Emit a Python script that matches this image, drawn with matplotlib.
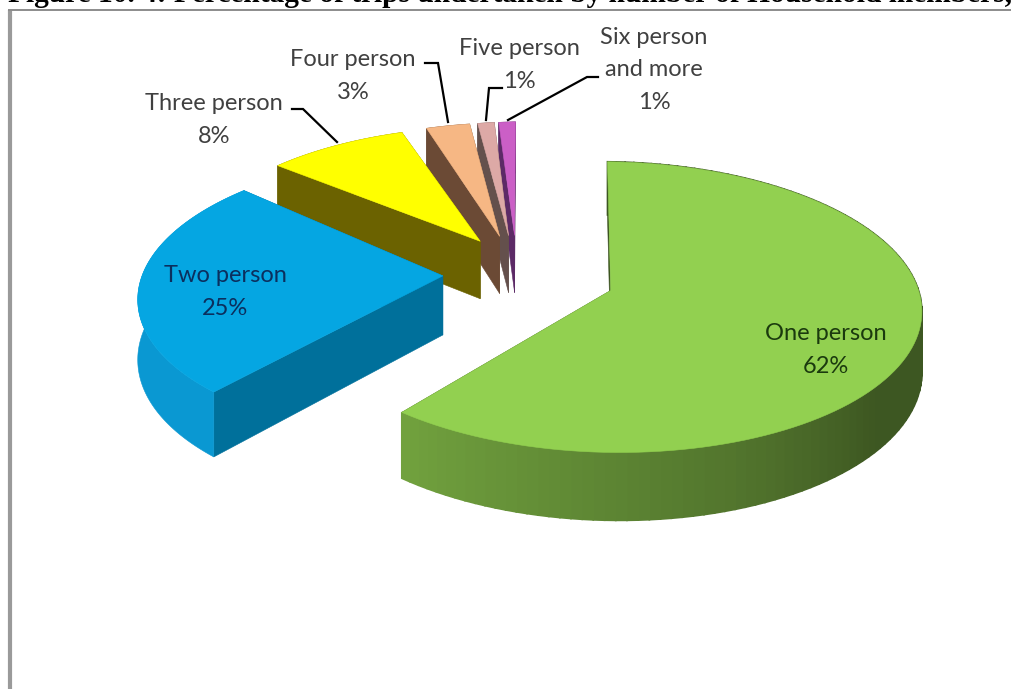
import numpy as np
import matplotlib
matplotlib.use("Agg")
import matplotlib.pyplot as plt
from matplotlib.patches import Polygon

# pie data, clockwise from the top
categories = ["One person", "Two person", "Three person", "Four person", "Five person", "Six person\nand more"]
shares = [62, 25, 8, 3, 1, 1]
top_colors = ["#92D050", "#05A6E2", "#FFFF00", "#F6B784", "#DDA9A6", "#CB5FC6"]
side_colors = ["#3C5420", "#00709B", "#6B6200", "#6B4A35", "#64504C", "#5C2A66"]
rim_colors = ["#92D050", "#0A98D2", "#6B6200", "#6B4A35", "#64504C", "#5C2A66"]
label_colors = ["#1B3A0E", "#0B2F5E", "#404040", "#404040", "#404040", "#404040"]

title = "Figure 10. 4: Percentage of trips undertaken by number of Household members,"

# fake 3D camera, all in pixels of the 1012x689 image
cx, cy = 530.5, 276
rx, ry = 306, 140
persp = 0.12
depth = 59
explode = 0.27
start_angle = -1

# the original 3D renderer is not a clean projection, small per slice corrections
start_nudge = [2.5, 0, -2, 0, -1.5, -1.5]
end_nudge = [-3.2, 0, -0.3, -1.3, -1.5, -1.5]
apex_dx = [2, -5, -6, -12, -13, -12]
apex_dy = [1, -2, -4, -4, -4, -4]


def project(x, y):
    p = 1 / (1 + persp * y)
    return cx + rx * x * p, cy - ry * y * p, depth * p


def wedge_points(t0, t1, ex, ey, n=120):
    t = np.radians(np.linspace(t0, t1, n))
    return project(ex + np.sin(t), ey + np.cos(t))


def face(ax, px, py, color, lw=0.4):
    ax.add_patch(Polygon(np.column_stack([px, py]), closed=True, facecolor=color,
                         edgecolor=color, linewidth=lw))


def darken(color, f):
    return tuple(c * f for c in matplotlib.colors.to_rgb(color))


fig = plt.figure(figsize=(10.12, 6.89), dpi=100)
ax = fig.add_axes([0, 0, 1, 1])
ax.set_xlim(0, 1012)
ax.set_ylim(689, 0)
ax.axis("off")

# page frame
ax.plot([10, 10], [689, 10], color="#9A9A9A", lw=3, solid_capstyle="butt")
ax.plot([8, 1012], [10, 10], color="#8C8C8C", lw=1.4, solid_capstyle="butt")
ax.text(8, 2, title, family="Liberation Serif", weight="bold", fontsize=21.15,
        color="black", ha="left", va="baseline", clip_on=False)

bounds = start_angle + np.cumsum([0] + shares) * 3.6

# draw from the back slice to the front one
for i in range(len(shares) - 1, -1, -1):
    t0, t1 = bounds[i], bounds[i + 1]
    mid = np.radians((t0 + t1) / 2)
    ex, ey = explode * np.sin(mid), explode * np.cos(mid)
    ax_, ay_, ad_ = project(ex, ey)
    ax_ += apex_dx[i]
    ay_ += apex_dy[i]
    t0, t1 = t0 + start_nudge[i], t1 + end_nudge[i]
    px, py, pd = wedge_points(t0, t1, ex, ey)

    # straight cut faces
    for j in (0, -1):
        face(ax, [ax_, px[j], px[j], ax_], [ay_, py[j], py[j] + pd[j], ay_ + ad_], side_colors[i])

    # outer rim, green gets the shaded gradient
    if i == 0:
        for j in range(len(px) - 1):
            tm = t0 + (t1 - t0) * (j + 0.5) / (len(px) - 1)
            col = darken(rim_colors[0], np.interp(tm, [0, 130, 160, 225], [0.42, 0.42, 0.56, 0.8]))
            face(ax, [px[j], px[j + 1], px[j + 1], px[j]],
                 [py[j], py[j + 1], py[j + 1] + pd[j + 1], py[j] + pd[j]], col, lw=1.2)
    else:
        face(ax, np.r_[px, px[::-1]], np.r_[py, (py + pd)[::-1]], rim_colors[i])

    # top
    face(ax, np.r_[ax_, px], np.r_[ay_, py], top_colors[i])

# leader lines
leaders = [
    ([292, 303, 337], [109, 109, 142]),
    ([425, 438, 448], [63, 63, 122]),
    ([502, 489, 486], [88, 88, 120]),
    ([598, 587, 508], [77, 77, 120]),
]
for lx, ly in leaders:
    ax.plot(lx, ly, color="black", lw=1.6, solid_joinstyle="miter")

# labels
label_pos = [(826, 350), (225, 292), (214, 120), (353, 76), (519, 65), (654, 70)]
for name, val, pos, col in zip(categories, shares, label_pos, label_colors):
    ax.text(pos[0], pos[1], f"{name}\n{val}%", family="Lato", fontsize=17, color=col,
            ha="center", va="center", linespacing=1.65)

fig.savefig("out.png", dpi=100)
